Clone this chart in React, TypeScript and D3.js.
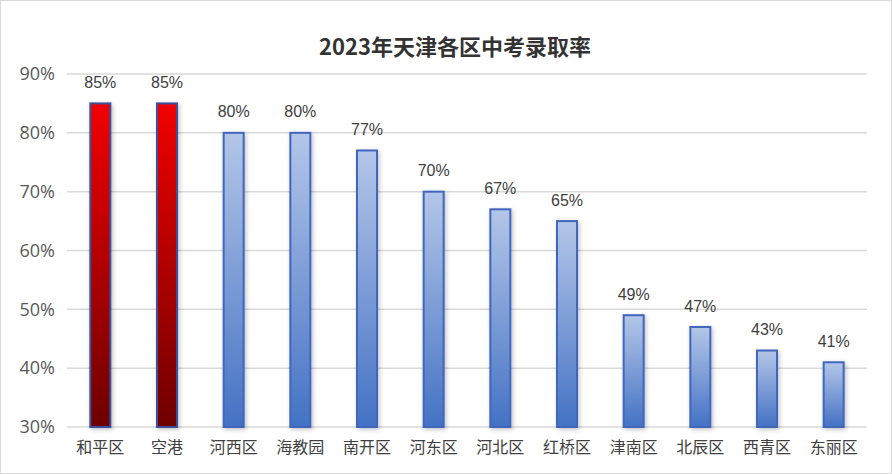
import { useEffect, useRef } from 'react';
import * as d3 from 'd3';

const districts = ['和平区', '空港', '河西区', '海教园', '南开区', '河东区', '河北区', '红桥区', '津南区', '北辰区', '西青区', '东丽区'];
const rates = [85, 85, 80, 80, 77, 70, 67, 65, 49, 47, 43, 41];
const highlighted = ['和平区', '空港'];
const yTicks = [30, 40, 50, 60, 70, 80, 90];

const W = 892;
const H = 474;

export default function App() {
  const ref = useRef<SVGSVGElement>(null);

  useEffect(() => {
    if (!ref.current) return;
    const svg = d3.select(ref.current);
    svg.selectAll('*').remove();

    const left = 67, right = 867, top = 74, bottom = 427;
    const x = d3.scaleBand<string>().domain(districts).range([left, right]);
    const y = d3.scaleLinear().domain([30, 90]).range([bottom, top]);
    const barW = 20;

    const defs = svg.append('defs');
    const red = defs.append('linearGradient').attr('id', 'gRed').attr('x1', 0).attr('y1', 0).attr('x2', 0).attr('y2', 1);
    red.append('stop').attr('offset', '0%').attr('stop-color', '#f20000');
    red.append('stop').attr('offset', '100%').attr('stop-color', '#6e0000');
    const blue = defs.append('linearGradient').attr('id', 'gBlue').attr('x1', 0).attr('y1', 0).attr('x2', 0).attr('y2', 1);
    blue.append('stop').attr('offset', '0%').attr('stop-color', '#b4c6e8');
    blue.append('stop').attr('offset', '100%').attr('stop-color', '#4472c4');
    const shadow = defs.append('filter').attr('id', 'shadow').attr('x', '-50%').attr('y', '-20%').attr('width', '200%').attr('height', '140%');
    shadow.append('feDropShadow').attr('dx', 1.5).attr('dy', 1.5).attr('stdDeviation', 2).attr('flood-color', '#000').attr('flood-opacity', 0.25);

    // background + frame
    svg.append('rect').attr('x', 0.5).attr('y', 0.5).attr('width', W - 1).attr('height', H - 1)
      .attr('fill', '#fff').attr('stroke', '#d9d9d9').attr('stroke-width', 1);

    // title
    svg.append('text')
      .attr('x', 455).attr('y', 55)
      .attr('text-anchor', 'middle')
      .style('font-family', '"Noto Sans CJK SC", sans-serif')
      .style('font-size', '22px').style('font-weight', 'bold')
      .style('fill', '#333')
      .text('2023年天津各区中考录取率');

    // grid
    svg.append('g').selectAll('line').data(yTicks).enter().append('line')
      .attr('x1', left).attr('x2', right)
      .attr('y1', d => y(d)).attr('y2', d => y(d))
      .attr('stroke', '#d9d9d9').attr('stroke-width', 1.5);

    svg.append('g').selectAll('text').data(yTicks).enter().append('text')
      .attr('x', 55).attr('y', d => y(d)).attr('dy', '0.35em')
      .attr('text-anchor', 'end')
      .style('font-family', '"Open Sans", "Noto Sans", sans-serif')
      .style('font-size', '18px').style('fill', '#595959')
      .text(d => `${d}%`);

    // bars
    const bars = svg.append('g');
    bars.selectAll('rect').data(rates).enter().append('rect')
      .attr('x', (_, i) => x(districts[i])! + x.bandwidth() / 2 - barW / 2)
      .attr('y', d => y(d))
      .attr('width', barW)
      .attr('height', d => bottom - y(d))
      .attr('fill', (_, i) => highlighted.includes(districts[i]) ? 'url(#gRed)' : 'url(#gBlue)')
      .attr('stroke', (_, i) => highlighted.includes(districts[i]) ? '#3a4f9a' : '#3f66bd')
      .attr('stroke-width', 2)
      .attr('filter', 'url(#shadow)');

    // value labels
    svg.append('g').selectAll('text').data(rates).enter().append('text')
      .attr('x', (_, i) => x(districts[i])! + x.bandwidth() / 2)
      .attr('y', d => y(d) - 21).attr('dy', '0.35em')
      .attr('text-anchor', 'middle')
      .style('font-family', '"Liberation Sans Narrow", "Liberation Sans", sans-serif')
      .style('font-size', '16px').style('fill', '#404040')
      .text(d => `${d}%`);

    // category labels
    svg.append('g').selectAll('text').data(districts).enter().append('text')
      .attr('x', d => x(d)! + x.bandwidth() / 2)
      .attr('y', 447).attr('dy', '0.35em')
      .attr('text-anchor', 'middle')
      .style('font-family', '"Noto Sans CJK SC", sans-serif')
      .style('font-size', '16px').style('fill', '#404040')
      .text(d => d);
  }, []);

  return (
    <svg ref={ref} width={W} height={H}
      style={{ display: 'block', position: 'absolute', left: 0, top: 0 }} />
  );
}
